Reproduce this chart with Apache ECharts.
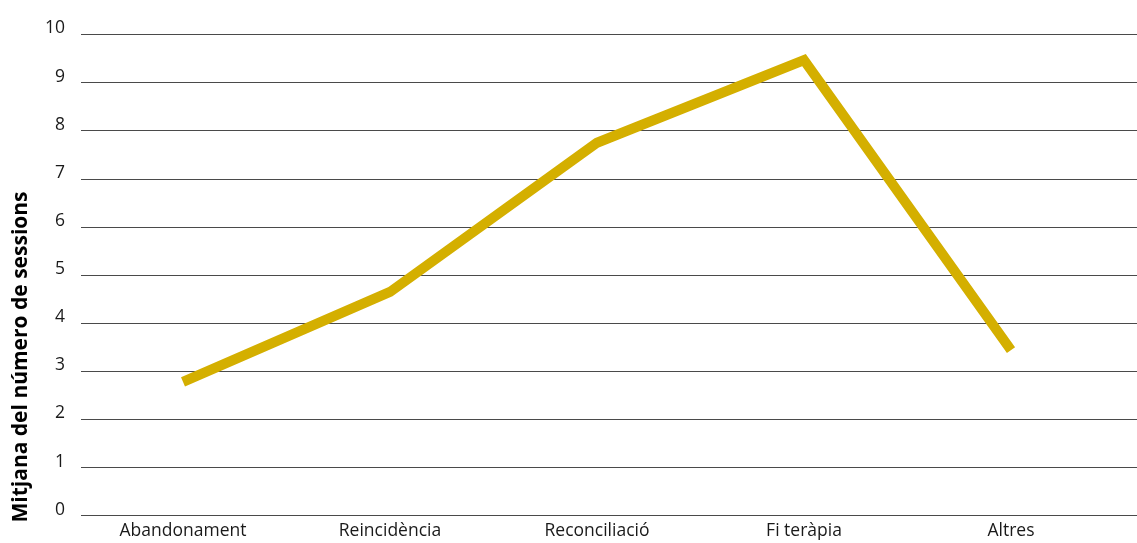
<!DOCTYPE html>
<html>
<head>
<meta charset="utf-8">
<script src="https://cdn.jsdelivr.net/npm/echarts@6/dist/echarts.min.js"></script>
<style>
  html, body { margin: 0; padding: 0; background: #fff; }
  #chart { width: 1137px; height: 543px; }
</style>
</head>
<body>
<div id="chart"></div>
<script>
// Mitjana del número de sessions per motiu de finalització
const categories = ['Abandonament', 'Reincidència', 'Reconciliació', 'Fi teràpia', 'Altres'];
const mitjanaSessions = [2.78, 4.65, 7.75, 9.47, 3.44];
const yTicks = [0, 1, 2, 3, 4, 5, 6, 7, 8, 9, 10];

const FONT = '"Open Sans", "Noto Sans", sans-serif';
const TOP = 34.5;
const BOTTOM = 27.3;

const chart = echarts.init(document.getElementById('chart'), null, { renderer: 'canvas' });

chart.setOption({
  backgroundColor: '#ffffff',
  animation: false,
  grid: [
    // horizontal rules and value labels across the full width
    { left: 81, right: 0, top: TOP, bottom: BOTTOM },
    // plotting area for the categories
    { left: 79.5, right: 22.5, top: TOP, bottom: BOTTOM }
  ],
  xAxis: [
    { gridIndex: 0, type: 'category', data: categories, show: false },
    {
      gridIndex: 1,
      type: 'category',
      data: categories,
      boundaryGap: true,
      axisLine: { show: false },
      axisTick: { show: false },
      axisLabel: { color: '#1a1a1a', fontFamily: FONT, fontSize: 17.5, margin: 6 }
    }
  ],
  yAxis: [
    {
      gridIndex: 0,
      type: 'value',
      min: yTicks[0],
      max: yTicks[yTicks.length - 1],
      interval: 1,
      axisLine: { show: false },
      axisTick: { show: false },
      axisLabel: {
        color: '#1a1a1a', fontFamily: FONT, fontSize: 17.5, margin: 16,
        verticalAlign: 'bottom', lineHeight: 12
      },
      splitLine: { lineStyle: { color: '#4a4a4a', width: 1 } }
    },
    {
      gridIndex: 1,
      type: 'value',
      min: yTicks[0],
      max: yTicks[yTicks.length - 1],
      show: false
    }
  ],
  graphic: [
    {
      type: 'text',
      x: 21,
      y: 357,
      rotation: Math.PI / 2,
      style: {
        text: 'Mitjana del número de sessions',
        fill: '#000',
        font: 'bold 21px ' + FONT,
        align: 'center',
        verticalAlign: 'middle'
      }
    }
  ],
  series: [
    {
      type: 'line',
      xAxisIndex: 1,
      yAxisIndex: 1,
      data: mitjanaSessions,
      symbol: 'none',
      lineStyle: { color: '#d4af00', width: 10, cap: 'butt', join: 'miter' }
    }
  ]
});
</script>
</body>
</html>
